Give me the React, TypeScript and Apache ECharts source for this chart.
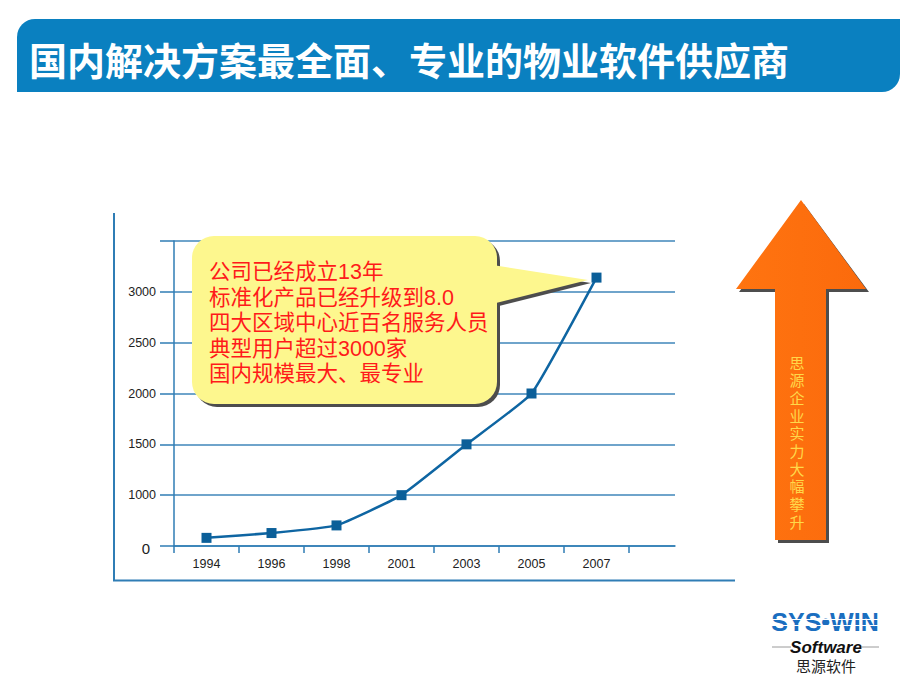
import React, { useEffect, useRef } from "react";
import * as echarts from "echarts";

const years = ["1994", "1996", "1998", "2001", "2003", "2005", "2007"];
const customers = [160, 255, 405, 1000, 1500, 2000, 3140];
const yTickLabels: Record<number, string> = { 500: "0", 1000: "1000", 1500: "1500", 2000: "2000", 2500: "2500", 3000: "3000", 3500: "" };
const calloutLines = [
  "公司已经成立13年",
  "标准化产品已经升级到8.0",
  "四大区域中心近百名服务人员",
  "典型用户超过3000家",
  "国内规模最大、最专业",
];
const titleText = "国内解决方案最全面、专业的物业软件供应商";
const arrowText = "思源企业实力大幅攀升";

// The original axis is broken: the "0" gridline sits one step below 1000.
const toAxis = (v: number) => (v <= 1000 ? 500 + v / 2 : v);

const BLUE = "#2f7db5";
const GRID = "#3f86ba";
const CJK = '"Noto Sans CJK SC", sans-serif';
const CJK_TIGHT = '"Liberation Sans", "Noto Sans CJK SC", sans-serif';

export default function App() {
  const ref = useRef<HTMLDivElement>(null);
  useEffect(() => {
    if (!ref.current) return;
    const chart = echarts.init(ref.current, null, { renderer: "svg" });
    const shadow = "#4d4d4d";
    const yellow = "#fdf78e";
    const orange = "#fb6a0c";
    const arrowChars = arrowText.split("").map((ch, i) => ({
      type: "text",
      z: 22,
      style: {
        text: ch,
        x: 797,
        y: 363 + i * 17.7,
        align: "center",
        verticalAlign: "middle",
        fill: "#ffd84a",
        font: `15px ${CJK_TIGHT}`,
      },
    }));
    const calloutTexts = calloutLines.map((line, i) => ({
      type: "text",
      z: 22,
      style: {
        text: line,
        x: 209,
        y: 272 + i * 25.5,
        verticalAlign: "middle",
        fill: "#ff1a1a",
        font: `21.5px ${CJK_TIGHT}`,
      },
    }));
    chart.setOption({
      animation: false,
      backgroundColor: "#ffffff",
      grid: [
        { left: 174, top: 241, width: 455, bottom: 144 },
        { left: 629, top: 241, width: 46, bottom: 144 },
      ],
      xAxis: [
        {
          gridIndex: 0,
          type: "category",
          data: years,
          boundaryGap: true,
          axisLine: { lineStyle: { color: BLUE, width: 1.5 } },
          axisTick: { show: true, length: 7, lineStyle: { color: BLUE, width: 1.5 } },
          axisLabel: { color: "#222", fontSize: 12.5, margin: 11, fontFamily: "Liberation Sans, Arial" },
        },
        {
          gridIndex: 1,
          type: "category",
          data: [""],
          axisLine: { lineStyle: { color: BLUE, width: 1.5 } },
          axisTick: { show: false },
          axisLabel: { show: false },
        },
      ],
      yAxis: [
        {
          gridIndex: 0,
          type: "value",
          min: 500,
          max: 3500,
          interval: 500,
          axisLine: { show: true, lineStyle: { color: BLUE, width: 1.5 } },
          axisTick: { show: true, length: 14, lineStyle: { color: BLUE, width: 1.5 } },
          splitLine: { show: true, lineStyle: { color: GRID, width: 1.5 } },
          axisLabel: {
            color: "#222",
            fontSize: 12.5,
            margin: 18,
            fontFamily: "Liberation Sans, Arial",
            formatter: (v: number) => (v === 500 ? "{z|0}" : yTickLabels[v] ?? ""),
            rich: { z: { fontSize: 15, padding: [4, 6, 0, 0], color: "#222", fontFamily: "Liberation Sans, Arial" } },
          },
        },
        {
          gridIndex: 1,
          type: "value",
          min: 500,
          max: 3500,
          interval: 500,
          axisLine: { show: false },
          axisTick: { show: false },
          axisLabel: { show: false },
          splitLine: { show: true, lineStyle: { color: GRID, width: 1.5 } },
        },
      ],
      series: [
        {
          type: "line",
          xAxisIndex: 0,
          yAxisIndex: 0,
          data: customers.map(toAxis),
          smooth: 0.12,
          symbol: "rect",
          symbolSize: 10,
          lineStyle: { color: "#0e65a2", width: 2.5 },
          itemStyle: { color: "#0b5f99" },
          z: 3,
        },
      ],
      graphic: [
        // title bar
        { type: "rect", z: 1, shape: { x: 17, y: 19, width: 883, height: 73, r: [18, 0, 18, 0] }, style: { fill: "#0a80c0" } },
        { type: "text", z: 2, style: { text: titleText, x: 29, y: 58, verticalAlign: "middle", fill: "#ffffff", font: `bold 38px ${CJK}` } },
        // outer frame
        { type: "line", z: 1, shape: { x1: 114, y1: 213, x2: 114, y2: 581 }, style: { stroke: BLUE, lineWidth: 2 } },
        { type: "line", z: 1, shape: { x1: 113, y1: 580.5, x2: 735, y2: 580.5 }, style: { stroke: BLUE, lineWidth: 2 } },
        // callout shadow
        { type: "rect", z: 20, shape: { x: 195, y: 239, width: 305, height: 168, r: 22 }, style: { fill: shadow } },
        { type: "polygon", z: 20, shape: { points: [[483, 266], [591, 283], [483, 310]] }, style: { fill: shadow } },
        // callout body
        { type: "rect", z: 21, shape: { x: 192, y: 236, width: 305, height: 168, r: 22 }, style: { fill: yellow } },
        { type: "polygon", z: 21, shape: { points: [[480, 263], [588, 280], [480, 307]] }, style: { fill: yellow } },
        ...calloutTexts,
        // arrow
        {
          type: "polygon",
          z: 20,
          shape: { points: [[804, 204], [869, 292], [829, 292], [829, 543], [778, 543], [778, 292], [739, 292]] },
          style: { fill: shadow },
        },
        {
          type: "polygon",
          z: 21,
          shape: { points: [[801, 200], [866, 289], [826, 289], [826, 540], [775, 540], [775, 289], [736, 289]] },
          style: {
            fill: new echarts.graphic.LinearGradient(0, 0, 1, 0, [
              { offset: 0, color: "#ff7410" },
              { offset: 1, color: orange },
            ]),
          },
        },
        ...arrowChars,
        // logo
        { type: "text", z: 5, style: { text: "SYS•WIN", x: 825, y: 622, align: "center", verticalAlign: "middle", fill: "#1a6ec0", font: 'bold 25px "Liberation Sans", Arial' } },
        { type: "line", z: 6, shape: { x1: 768, y1: 619.5, x2: 882, y2: 619.5 }, style: { stroke: "#ffffff", lineWidth: 1.2 } },
        { type: "line", z: 6, shape: { x1: 768, y1: 625.5, x2: 882, y2: 625.5 }, style: { stroke: "#ffffff", lineWidth: 1.2 } },
        { type: "text", z: 5, style: { text: "Software", x: 826, y: 647, align: "center", verticalAlign: "middle", fill: "#111", font: 'italic bold 17px "Liberation Sans", Arial' } },
        { type: "line", z: 5, shape: { x1: 772, y1: 647, x2: 791, y2: 647 }, style: { stroke: "#9a9a9a", lineWidth: 1 } },
        { type: "line", z: 5, shape: { x1: 861, y1: 647, x2: 879, y2: 647 }, style: { stroke: "#9a9a9a", lineWidth: 1 } },
        { type: "text", z: 5, style: { text: "思源软件", x: 826, y: 665, align: "center", verticalAlign: "middle", fill: "#222", font: `15px ${CJK}` } },
      ],
    });
    return () => chart.dispose();
  }, []);
  return <div ref={ref} style={{ position: "absolute", left: 0, top: 0, width: 920, height: 690 }} />;
}
